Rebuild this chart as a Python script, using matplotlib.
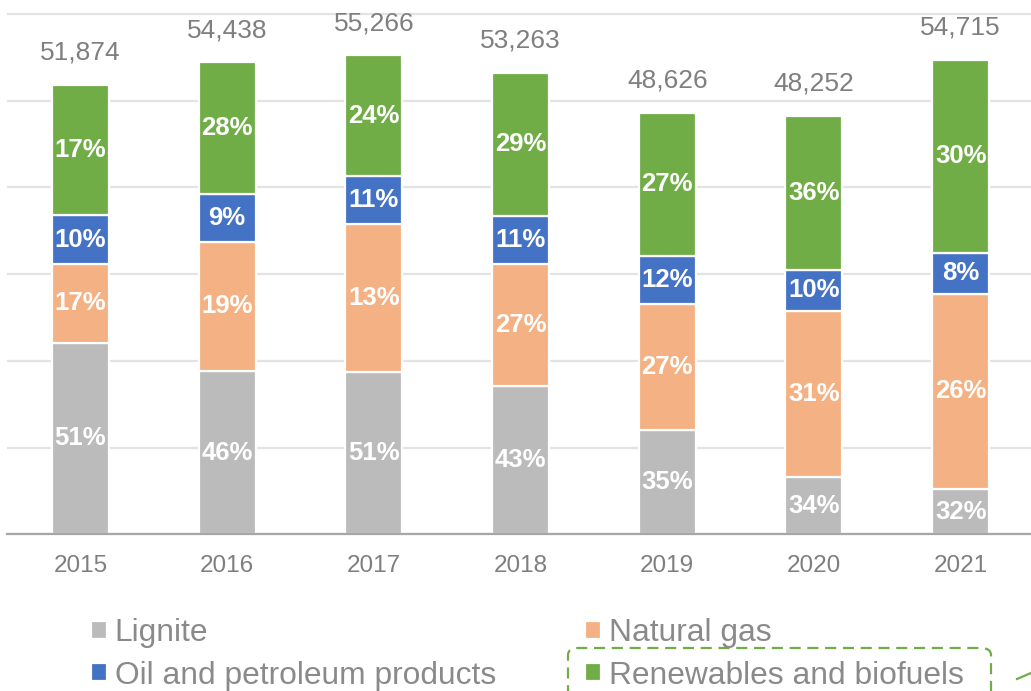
import numpy as np
import matplotlib
matplotlib.use('Agg')
import matplotlib.pyplot as plt
from matplotlib.patches import FancyBboxPatch
from matplotlib.lines import Line2D

plt.rcParams['font.family'] = ['Liberation Sans', 'DejaVu Sans']

# ─── data ──────────────────────────────────────────────────────
years = ['2015', '2016', '2017', '2018', '2019', '2020', '2021']
totals = [51874, 54438, 55266, 53263, 48626, 48252, 54715]

lignite = [22100, 18850, 18700, 17100, 12050, 6550, 5250]
natural_gas = [9050, 14850, 17100, 14050, 14500, 19200, 22450]
oil = [5650, 5550, 5500, 5550, 5550, 4750, 4750]
renewables = [15050, 15200, 13950, 16500, 16500, 17750, 22250]

lignite_pct = [51, 46, 51, 43, 35, 34, 32]
gas_pct = [17, 19, 13, 27, 27, 31, 26]
oil_pct = [10, 9, 11, 11, 12, 10, 8]
ren_pct = [17, 28, 24, 29, 27, 36, 30]

series = [
    ('Lignite', lignite, lignite_pct, '#BBBBBB'),
    ('Natural gas', natural_gas, gas_pct, '#F4B183'),
    ('Oil and petroleum products', oil, oil_pct, '#4472C4'),
    ('Renewables and biofuels', renewables, ren_pct, '#70AD47'),
]

W, H = 1031, 691
fig = plt.figure(figsize=(W / 100, H / 100), dpi=100)

# axes box in pixel terms: x 7..1034, y(top-origin) 5..534
ax = fig.add_axes([7 / W, (H - 534.3) / H, 1027 / W, (534.3 - 5.3) / H])
ax.set_xlim(-0.5, 6.5)
ax.set_ylim(0, 61000)

x = np.arange(len(years))
bottom = np.zeros(len(years))
handles = {}
for name, vals, pcts, col in series:
    vals = np.array(vals, dtype=float)
    bars = ax.bar(x, vals, 0.388, bottom=bottom, color=col,
                  edgecolor='white', linewidth=1.6, zorder=3, label=name)
    handles[name] = bars
    for xi, b, v, p in zip(x, bottom, vals, pcts):
        ax.text(xi, b + v / 2, f'{p}%', ha='center', va='center',
                color='white', fontsize=18.5, fontweight='bold', zorder=4)
    bottom += vals

for xi, top, tot in zip(x, bottom, totals):
    ax.annotate(f'{tot:,}', xy=(xi, top), xytext=(0, 18),
                textcoords='offset points', ha='center', va='baseline',
                fontsize=19, color='#7F7F7F')

ax.set_yticks(np.arange(0, 61000, 10000))
ax.yaxis.grid(True, color='#E3E3E3', linewidth=1.6, zorder=0)
ax.set_axisbelow(True)
ax.tick_params(axis='y', left=False, labelleft=False)
ax.tick_params(axis='x', length=0, pad=15, labelsize=17.5, labelcolor='#7F7F7F')
ax.set_xticks(x)
ax.set_xticklabels(years)
for s in ['top', 'right', 'left']:
    ax.spines[s].set_visible(False)
ax.spines['bottom'].set_color('#A6A6A6')
ax.spines['bottom'].set_linewidth(1.6)
ax.spines['bottom'].set_zorder(5)

# ─── legend ───────────────────────────────────────────────────
order = ['Lignite', 'Oil and petroleum products', 'Natural gas', 'Renewables and biofuels']
fig.legend([handles[k] for k in order], order, ncol=2,
           loc='upper left', bbox_to_anchor=(91 / W, (H - 618) / H),
           frameon=False, fontsize=22.9, labelcolor='#8A8A8A',
           handlelength=0.5, handleheight=0.5, handletextpad=0.25,
           columnspacing=2.81, labelspacing=0.4, borderpad=0, borderaxespad=0)

# dashed callout box around the renewables entry
box = FancyBboxPatch((568 / W, -20 / H), (991 - 568) / W, (20 + 43) / H,
                     boxstyle='round,pad=0,rounding_size=0.01',
                     transform=fig.transFigure, fill=False,
                     edgecolor='#70AD47', linewidth=1.6, linestyle=(0, (5, 3)))
fig.patches.append(box)
fig.lines.append(Line2D([1017 / W, 1031 / W], [(H - 679) / H, (H - 673) / H],
                        transform=fig.transFigure, color='#70AD47', linewidth=1.6))

fig.savefig('out.png', dpi=100)
